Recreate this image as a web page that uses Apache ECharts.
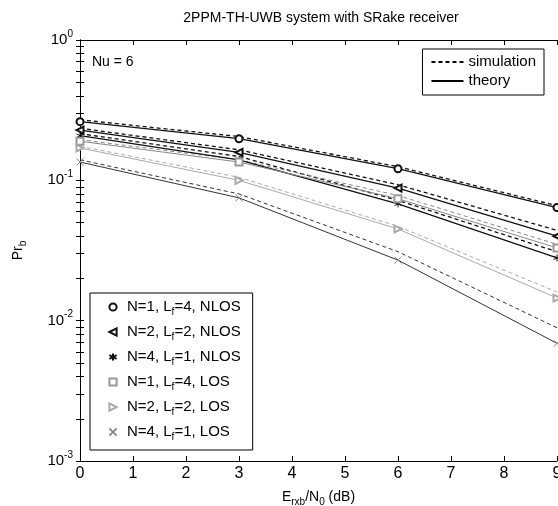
<!DOCTYPE html>
<html>
<head>
    <meta charset="utf-8">
    <title>2PPM-TH-UWB SRake</title>
    <script src="https://cdn.jsdelivr.net/npm/echarts@6/dist/echarts.min.js"></script>
</head>
<body style="margin:0; background:#fff;">
    <div id="main" style="width:558px; height:506px;"></div>
    <script>
        // Eb/N0 points (dB)
        var snr = [0, 3, 6, 9]
        var xTicks = [0, 1, 2, 3, 4, 5, 6, 7, 8, 9]
        var yDecades = [0.001, 0.01, 0.1, 1]

        // simulation (dashed) and theory (solid) curves
        var simNlos1 = [0.27, 0.205, 0.125, 0.066]
        var thyNlos1 = [0.262, 0.198, 0.121, 0.064]
        var simNlos2 = [0.235, 0.165, 0.093, 0.044]
        var thyNlos2 = [0.228, 0.158, 0.088, 0.040]
        var simNlos4 = [0.215, 0.148, 0.072, 0.031]
        var thyNlos4 = [0.208, 0.140, 0.068, 0.028]
        var simLos1 = [0.195, 0.14, 0.078, 0.035]
        var thyLos1 = [0.19, 0.135, 0.074, 0.033]
        var simLos2 = [0.175, 0.105, 0.047, 0.016]
        var thyLos2 = [0.17, 0.10, 0.045, 0.0145]
        var simLos4 = [0.14, 0.08, 0.031, 0.0089]
        var thyLos4 = [0.135, 0.075, 0.027, 0.0069]

        var labels = [
            'N=1, L_f=4, NLOS',
            'N=2, L_f=2, NLOS',
            'N=4, L_f=1, NLOS',
            'N=1, L_f=4, LOS',
            'N=2, L_f=2, LOS',
            'N=4, L_f=1, LOS',
        ]

        // ticks of the log axis: decades plus 2..9 in each decade
        var yTicks = yDecades.slice()
        for (var d = 0; d < 3; d++) {
            for (var m = 2; m <= 9; m++) {
                yTicks.push(yDecades[d] * m)
            }
        }

        var font = "'Liberation Sans', Arial, sans-serif"
        var starPath = 'path://M5,0L5,10M0.7,2.5L9.3,7.5M0.7,7.5L9.3,2.5'
        var crossPath = 'path://M0,0L10,10M10,0L0,10'

        var element = document.querySelector('#main')
        var myChart = echarts.init(element)

        var pairs = (xs, ys) => xs.map((x, i) => [x, ys[i]])

        var styles = [
            {sim: simNlos1, thy: thyNlos1, symbol: 'emptyCircle', rotate: 0, line: '#111', mark: '#111', width: 1.3},
            {sim: simNlos2, thy: thyNlos2, symbol: 'emptyTriangle', rotate: 90, line: '#111', mark: '#111', width: 1.3},
            {sim: simNlos4, thy: thyNlos4, symbol: starPath, rotate: 0, line: '#111', mark: '#111', width: 1.3},
            {sim: simLos1, thy: thyLos1, symbol: 'emptyRect', rotate: 0, line: '#888', mark: '#999', width: 1},
            {sim: simLos2, thy: thyLos2, symbol: 'emptyTriangle', rotate: -90, line: '#aaa', mark: '#aaa', width: 1},
            {sim: simLos4, thy: thyLos4, symbol: crossPath, rotate: 0, line: '#333', mark: '#888', width: 1},
        ]

        var series = []
        styles.forEach((s, i) => {
            series.push({
                name: labels[i] + ' sim',
                type: 'line',
                data: pairs(snr, s.sim),
                symbol: 'none',
                z: 2,
                lineStyle: {color: s.line, width: s.width, type: [4, 3]},
            })
            series.push({
                name: labels[i],
                type: 'line',
                data: pairs(snr, s.thy),
                symbol: s.symbol,
                symbolRotate: s.rotate,
                symbolSize: 7,
                z: 3,
                itemStyle: {color: s.mark, borderColor: s.mark, borderWidth: 1},
                lineStyle: {color: s.line, width: s.width, type: 'solid'},
            })
        })

        // legend-only entries for line styles
        series.push({name: 'simulation', type: 'line', data: [], symbol: 'none',
            itemStyle: {opacity: 0},
            lineStyle: {color: '#000', width: 1, type: [4, 3]}})
        series.push({name: 'theory', type: 'line', data: [], symbol: 'none',
            itemStyle: {opacity: 0},
            lineStyle: {color: '#000', width: 1, type: 'solid'}})

        var supRich = {
            base: {fontFamily: font, fontSize: 15, lineHeight: 22, color: '#000'},
            sup: {fontFamily: font, fontSize: 10, lineHeight: 10, verticalAlign: 'top', color: '#000'},
        }
        var subRich = {
            sub: {fontFamily: font, fontSize: 10, lineHeight: 10, verticalAlign: 'bottom', color: '#000'},
        }

        var option = {
            backgroundColor: '#fff',
            animation: false,
            textStyle: {fontFamily: font, color: '#000'},
            title: [
                {
                    text: '2PPM-TH-UWB system with SRake receiver',
                    left: 316,
                    top: 6,
                    textAlign: 'center',
                    textStyle: {fontFamily: font, fontSize: 14, fontWeight: 'normal', color: '#000'},
                },
                {
                    text: 'Nu = 6',
                    left: 87,
                    top: 50,
                    textStyle: {fontFamily: font, fontSize: 14, fontWeight: 'normal', color: '#000'},
                },
            ],
            grid: {left: 80, right: 1, top: 40, bottom: 45, containLabel: false, outerBoundsMode: 'none'},
            legend: [
                {
                    data: [
                        {name: 'simulation', itemStyle: {opacity: 0}},
                        {name: 'theory', itemStyle: {opacity: 0}},
                    ],
                    right: 14,
                    top: 49,
                    orient: 'vertical',
                    itemWidth: 32,
                    itemHeight: 10,
                    itemGap: 3,
                    padding: [5, 8, 6, 8],
                    borderColor: '#000',
                    borderWidth: 1,
                    backgroundColor: '#fff',
                    selectedMode: false,
                    textStyle: {fontFamily: font, fontSize: 15, color: '#000', lineHeight: 16},
                },
                {
                    data: labels.map(n => ({name: n, lineStyle: {opacity: 0}})),
                    left: 90,
                    top: 293,
                    orient: 'vertical',
                    itemWidth: 18,
                    itemHeight: 9,
                    itemGap: 5,
                    padding: [4, 12, 8, 13],
                    borderColor: '#000',
                    borderWidth: 1,
                    backgroundColor: '#fff',
                    selectedMode: false,
                    formatter: n => n.replace('L_f', 'L{sub|f}'),
                    textStyle: {fontFamily: font, fontSize: 15, color: '#000', lineHeight: 20, rich: subRich},
                },
            ],
            xAxis: [
                {
                    type: 'value',
                    min: 0,
                    max: 9,
                    interval: 1,
                    name: 'E{sub|rxb}/N{sub|0} (dB)',
                    nameLocation: 'middle',
                    nameGap: 21,
                    nameTextStyle: {fontFamily: font, fontSize: 14, color: '#000', lineHeight: 20, rich: subRich},
                    axisLine: {lineStyle: {color: '#000', width: 1}},
                    axisTick: {inside: true, length: 5, lineStyle: {color: '#000'}},
                    axisLabel: {fontFamily: font, fontSize: 16, color: '#000', margin: 5,
                        customValues: xTicks},
                    splitLine: {show: false},
                },
                {
                    type: 'value',
                    position: 'top',
                    min: 0,
                    max: 9,
                    interval: 1,
                    axisLine: {lineStyle: {color: '#000', width: 1}},
                    axisTick: {inside: true, length: 5, lineStyle: {color: '#000'}},
                    axisLabel: {show: false},
                    splitLine: {show: false},
                },
            ],
            yAxis: [
                {
                    type: 'log',
                    logBase: 10,
                    min: 0.001,
                    max: 1,
                    name: 'Pr{sub|b}',
                    nameLocation: 'middle',
                    nameGap: 52,
                    nameTextStyle: {fontFamily: font, fontSize: 14, color: '#000', lineHeight: 20, rich: subRich},
                    axisLine: {lineStyle: {color: '#000', width: 1}},
                    axisTick: {inside: true, length: 4, lineStyle: {color: '#000'}, customValues: yTicks},
                    axisLabel: {
                        margin: 7,
                        customValues: yDecades,
                        formatter: v => '{base|10}{sup|' + Math.round(Math.log10(v)) + '}',
                        rich: supRich,
                    },
                    splitLine: {show: false},
                },
                {
                    type: 'log',
                    logBase: 10,
                    position: 'right',
                    min: 0.001,
                    max: 1,
                    axisLine: {lineStyle: {color: '#000', width: 1}},
                    axisTick: {inside: true, length: 4, lineStyle: {color: '#000'}, customValues: yTicks},
                    axisLabel: {show: false},
                    splitLine: {show: false},
                },
            ],
            series: series,
        }

        myChart.setOption(option)
    </script>
</body>
</html>
